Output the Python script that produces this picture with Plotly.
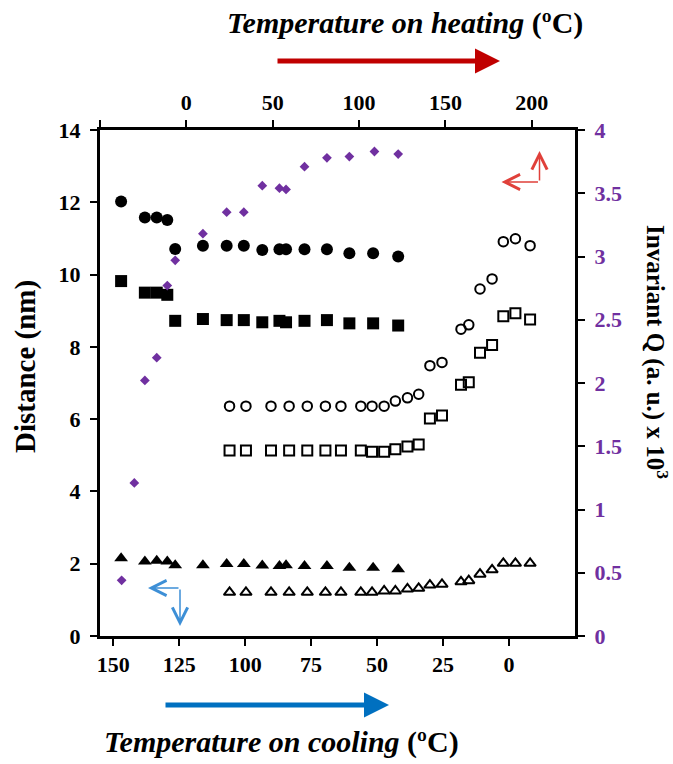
import plotly.graph_objects as go

# ---------------- data ----------------
# cooling run (bottom axis, filled symbols)
cool_T = [147, 138, 133.5, 129.5, 126.5, 116, 107, 100.5, 93.5, 87, 84.5, 77.5, 69, 60.5, 51.5, 42]
cool_circle = [12.02, 11.58, 11.58, 11.51, 10.71, 10.80, 10.80, 10.80, 10.68, 10.70, 10.70, 10.70, 10.70, 10.59, 10.59, 10.50]
cool_square = [9.82, 9.50, 9.50, 9.44, 8.72, 8.77, 8.74, 8.74, 8.68, 8.72, 8.68, 8.72, 8.74, 8.65, 8.65, 8.59]
cool_triangle = [2.15, 2.06, 2.08, 2.06, 1.96, 1.96, 1.99, 1.99, 1.95, 1.94, 1.96, 1.94, 1.94, 1.89, 1.89, 1.85]

# invariant Q (cooling axis, right axis)
q_T = [146.8, 142, 138, 133.5, 129.5, 126.5, 116, 107, 100.5, 93.5, 87, 84.5, 77.5, 69, 60.5, 51, 42]
q_val = [0.44, 1.21, 2.02, 2.20, 2.77, 2.97, 3.18, 3.35, 3.35, 3.56, 3.54, 3.53, 3.71, 3.78, 3.79, 3.83, 3.81]

# heating run (top axis, open symbols)
heat_T = [25, 34.5, 49, 59.5, 70, 80.5, 89.5, 101, 107.5, 114.5, 121, 128, 134.5, 141, 148,
          159, 163.5, 170, 177, 183.5, 190.5, 199]
heat_circle = [6.36, 6.36, 6.36, 6.36, 6.36, 6.36, 6.36, 6.36, 6.36, 6.36, 6.50, 6.59, 6.69, 7.48, 7.57,
               8.49, 8.61, 9.60, 9.88, 10.91, 10.99, 10.80]
heat_square = [5.13, 5.13, 5.13, 5.13, 5.13, 5.13, 5.13, 5.13, 5.10, 5.10, 5.17, 5.24, 5.30, 6.02, 6.10,
               6.95, 7.02, 7.84, 8.05, 8.85, 8.93, 8.76]
heat_triangle = [1.21, 1.21, 1.21, 1.21, 1.21, 1.21, 1.21, 1.21, 1.21, 1.245, 1.245, 1.30, 1.32, 1.41, 1.43,
                 1.50, 1.53, 1.71, 1.83, 2.01, 2.01, 2.01]

cool_ticks = [150, 125, 100, 75, 50, 25, 0]
heat_ticks = [-50, 0, 50, 100, 150, 200]
heat_ticktext = ["", "0", "50", "100", "150", "200"]
dist_ticks = [0, 2, 4, 6, 8, 10, 12, 14]
q_ticks = [0, 0.5, 1, 1.5, 2, 2.5, 3, 3.5, 4]
q_ticktext = ["0", "0.5", "1", "1.5", "2", "2.5", "3", "3.5", "4"]

# ---------------- styling ----------------
FONT = "Liberation Serif, Times New Roman, serif"
PURPLE = "#7030A0"
BLACK = "black"

W, H = 673, 764
L, R, T, B = 100, 98, 130, 128
PW, PH = W - L - R, H - T - B


def px2paper(px, py):
    return (px - L) / PW, (H - B - py) / PH


fig = go.Figure()

fig.add_trace(go.Scatter(x=cool_T, y=cool_circle, mode="markers", xaxis="x", yaxis="y",
                         marker=dict(symbol="circle", size=12, color=BLACK), showlegend=False))
fig.add_trace(go.Scatter(x=cool_T, y=cool_square, mode="markers", xaxis="x", yaxis="y",
                         marker=dict(symbol="square", size=12, color=BLACK), showlegend=False))
fig.add_trace(go.Scatter(x=cool_T, y=cool_triangle, mode="markers", xaxis="x", yaxis="y",
                         marker=dict(symbol="triangle-up", size=12, color=BLACK), showlegend=False))
fig.add_trace(go.Scatter(x=q_T, y=q_val, mode="markers", xaxis="x", yaxis="y2",
                         marker=dict(symbol="diamond", size=7.5, color=PURPLE), showlegend=False))
fig.add_trace(go.Scatter(x=heat_T, y=heat_circle, mode="markers", xaxis="x2", yaxis="y",
                         marker=dict(symbol="circle-open", size=9.5, color=BLACK, line=dict(width=2, color=BLACK)),
                         showlegend=False))
fig.add_trace(go.Scatter(x=heat_T, y=heat_square, mode="markers", xaxis="x2", yaxis="y",
                         marker=dict(symbol="square-open", size=10, color=BLACK, line=dict(width=2, color=BLACK)),
                         showlegend=False))
fig.add_trace(go.Scatter(x=heat_T, y=heat_triangle, mode="markers", xaxis="x2", yaxis="y",
                         marker=dict(symbol="triangle-up-open", size=10, color=BLACK, line=dict(width=2, color=BLACK)),
                         showlegend=False))

tickfont = dict(family=FONT, size=22, color=BLACK, weight="bold")
axis_common = dict(showline=True, linewidth=3, linecolor=BLACK, showgrid=False, zeroline=False,
                   ticks="outside", ticklen=7, tickwidth=2, tickcolor=BLACK, automargin=False)

fig.update_layout(
    width=W, height=H,
    margin=dict(l=L, r=R, t=T, b=B),
    plot_bgcolor="white", paper_bgcolor="white",
    xaxis=dict(range=[155, -25], tickvals=cool_ticks, tickfont=tickfont, ticklabelstandoff=0, **axis_common),
    xaxis2=dict(range=[-50, 225], overlaying="x", side="top", anchor="y",
                tickvals=heat_ticks, ticktext=heat_ticktext, tickfont=tickfont, ticklabelstandoff=1,
                **axis_common),
    yaxis=dict(range=[0, 14], tickvals=dist_ticks, tickfont=tickfont, ticklabelstandoff=5, **axis_common),
    yaxis2=dict(range=[0, 4], overlaying="y", side="right", anchor="x",
                tickvals=q_ticks, ticktext=q_ticktext, ticklabelstandoff=5,
                tickfont=dict(family=FONT, size=22, color=PURPLE, weight="bold"), **axis_common),
)

annotations = []
title_font = dict(family=FONT, size=30, color=BLACK)

x, y = px2paper(25, 367)
annotations.append(dict(text="<b>Distance (nm)</b>", x=x, y=y, xref="paper", yref="paper",
                        textangle=-90, showarrow=False, font=dict(family=FONT, size=29, color=BLACK),
                        xanchor="center", yanchor="middle"))
x, y = px2paper(657, 352)
annotations.append(dict(text="<b>Invariant Q (a. u.) x 10<sup>3</sup></b>", x=x, y=y, xref="paper", yref="paper",
                        textangle=90, showarrow=False, font=dict(family=FONT, size=25, color=BLACK),
                        xanchor="center", yanchor="middle"))
x, y = px2paper(405, 23)
annotations.append(dict(text="<b><i>Temperature on heating</i> (ºC)</b>", x=x, y=y, xref="paper", yref="paper",
                        showarrow=False, font=title_font, xanchor="center", yanchor="middle"))
x, y = px2paper(281, 742)
annotations.append(dict(text="<b><i>Temperature on cooling</i> (ºC)</b>", x=x, y=y, xref="paper", yref="paper",
                        showarrow=False, font=title_font, xanchor="center", yanchor="middle"))


def arrow(tip, tail, color, width, head, size):
    x, y = px2paper(*tip)
    return dict(x=x, y=y, xref="paper", yref="paper", ax=tail[0] - tip[0], ay=tail[1] - tip[1],
                axref="pixel", ayref="pixel", showarrow=True, text="",
                arrowcolor=color, arrowwidth=width, arrowhead=head, arrowsize=size)


# big direction arrows
annotations.append(arrow((500, 61), (276, 61), "#C00000", 5, 2, 1))
annotations.append(arrow((389, 705), (164, 705), "#0070C0", 5, 2, 1))
# small L-shaped arrows
RED_L = "#E0403A"
BLUE_L = "#3D8FD6"
annotations.append(arrow((539.5, 151), (539.5, 182), RED_L, 1.5, 5, 2))
annotations.append(arrow((501.5, 182), (539.5, 182), RED_L, 1.5, 5, 2))
annotations.append(arrow((148, 588), (180, 588), BLUE_L, 1.5, 5, 2))
annotations.append(arrow((180, 626), (180, 588), BLUE_L, 1.5, 5, 2))

fig.update_layout(annotations=annotations)

fig.write_html("out.html", config={"displayModeBar": False},
               post_script="document.body.style.margin='0';document.body.style.padding='0';")
